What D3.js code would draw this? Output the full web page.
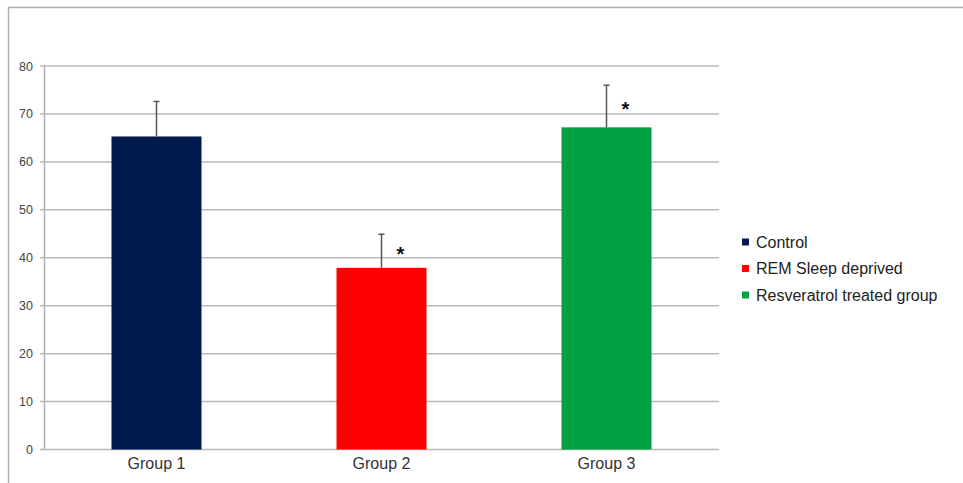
<!DOCTYPE html>
<html>
<head>
<meta charset="utf-8">
<script src="https://cdn.jsdelivr.net/npm/d3@7"></script>
<style>
  html, body { margin: 0; padding: 0; background: #fff; }
  svg { display: block; font-family: "Liberation Sans", Arial, sans-serif; }
</style>
</head>
<body>
<svg id="chart" width="963" height="483"></svg>
<script>
// Group means with standard-deviation error bars
const categories = ["Group 1", "Group 2", "Group 3"];
const seriesNames = ["Control", "REM Sleep deprived", "Resveratrol treated group"];
const means = [65.3, 37.9, 67.2];
const errors = [7.3, 7.0, 8.8];
const significant = [false, true, true];
const yTicks = [0, 10, 20, 30, 40, 50, 60, 70, 80];
const colors = ["#001a4d", "#ff0000", "#00a040"];

const svg = d3.select("#chart");
const plot = { left: 44, right: 719, top: 66, bottom: 449.5 };

// Outer frame (top and left edges only)
svg.append("path")
  .attr("d", "M8.5,483 L8.5,7.5 L963,7.5")
  .attr("fill", "none").attr("stroke", "#b0b0b0").attr("stroke-width", 1.5);

const x = d3.scaleBand()
  .domain(categories)
  .range([plot.left, plot.right])
  .paddingInner(0.6)
  .paddingOuter(0.3);

const y = d3.scaleLinear()
  .domain([0, 80])
  .range([plot.bottom, plot.top]);

// Horizontal gridlines
svg.append("g")
  .selectAll("line")
  .data(yTicks)
  .join("line")
  .attr("x1", plot.left - 4).attr("x2", plot.right)
  .attr("y1", d => y(d)).attr("y2", d => y(d))
  .attr("stroke", "#b8b8b8").attr("stroke-width", 1.5);

// Y axis
const yAxis = svg.append("g")
  .attr("transform", `translate(${plot.left},0)`)
  .call(d3.axisLeft(y).tickValues(yTicks).tickSize(0).tickPadding(11));
yAxis.select(".domain").attr("stroke", "#b0b0b0").attr("stroke-width", 1.5);
yAxis.selectAll("text").attr("fill", "#444").attr("font-size", 12.5);

// X axis labels
const xAxis = svg.append("g")
  .attr("transform", `translate(0,${plot.bottom})`)
  .call(d3.axisBottom(x).tickSize(0).tickPadding(8));
xAxis.select(".domain").remove();
xAxis.selectAll("text").attr("fill", "#333").attr("font-size", 16);

// Bars
svg.append("g")
  .selectAll("rect")
  .data(categories)
  .join("rect")
  .attr("x", d => x(d))
  .attr("width", x.bandwidth())
  .attr("y", (d, i) => y(means[i]))
  .attr("height", (d, i) => y(0) - y(means[i]))
  .attr("fill", (d, i) => colors[i]);

// Error bars (upper whisker with cap)
const err = svg.append("g").attr("stroke", "#555").attr("stroke-width", 1.5);
categories.forEach((c, i) => {
  const cx = x(c) + x.bandwidth() / 2;
  err.append("line")
    .attr("x1", cx).attr("x2", cx)
    .attr("y1", y(means[i])).attr("y2", y(means[i] + errors[i]));
  err.append("line")
    .attr("x1", cx - 3).attr("x2", cx + 3)
    .attr("y1", y(means[i] + errors[i])).attr("y2", y(means[i] + errors[i]));
});

// Significance markers
svg.append("g")
  .selectAll("text")
  .data(categories.filter((c, i) => significant[i]))
  .join("text")
  .attr("x", c => x(c) + x.bandwidth() / 2 + 19)
  .attr("y", c => { const i = categories.indexOf(c); return y(means[i] + errors[i] / 2) + 10; })
  .attr("text-anchor", "middle")
  .attr("font-size", 20)
  .attr("font-weight", "bold")
  .attr("fill", "#111")
  .text("*");

// Legend
const legend = svg.append("g").attr("transform", "translate(742,242)");
seriesNames.forEach((name, i) => {
  const row = legend.append("g").attr("transform", `translate(0,${i * 26.5})`);
  row.append("rect").attr("x", 0).attr("y", -3.5).attr("width", 7).attr("height", 7)
    .attr("fill", colors[i]);
  row.append("text").attr("x", 14).attr("y", 0).attr("dy", "0.35em")
    .attr("font-size", 16).attr("fill", "#222").text(name);
});
</script>
</body>
</html>
